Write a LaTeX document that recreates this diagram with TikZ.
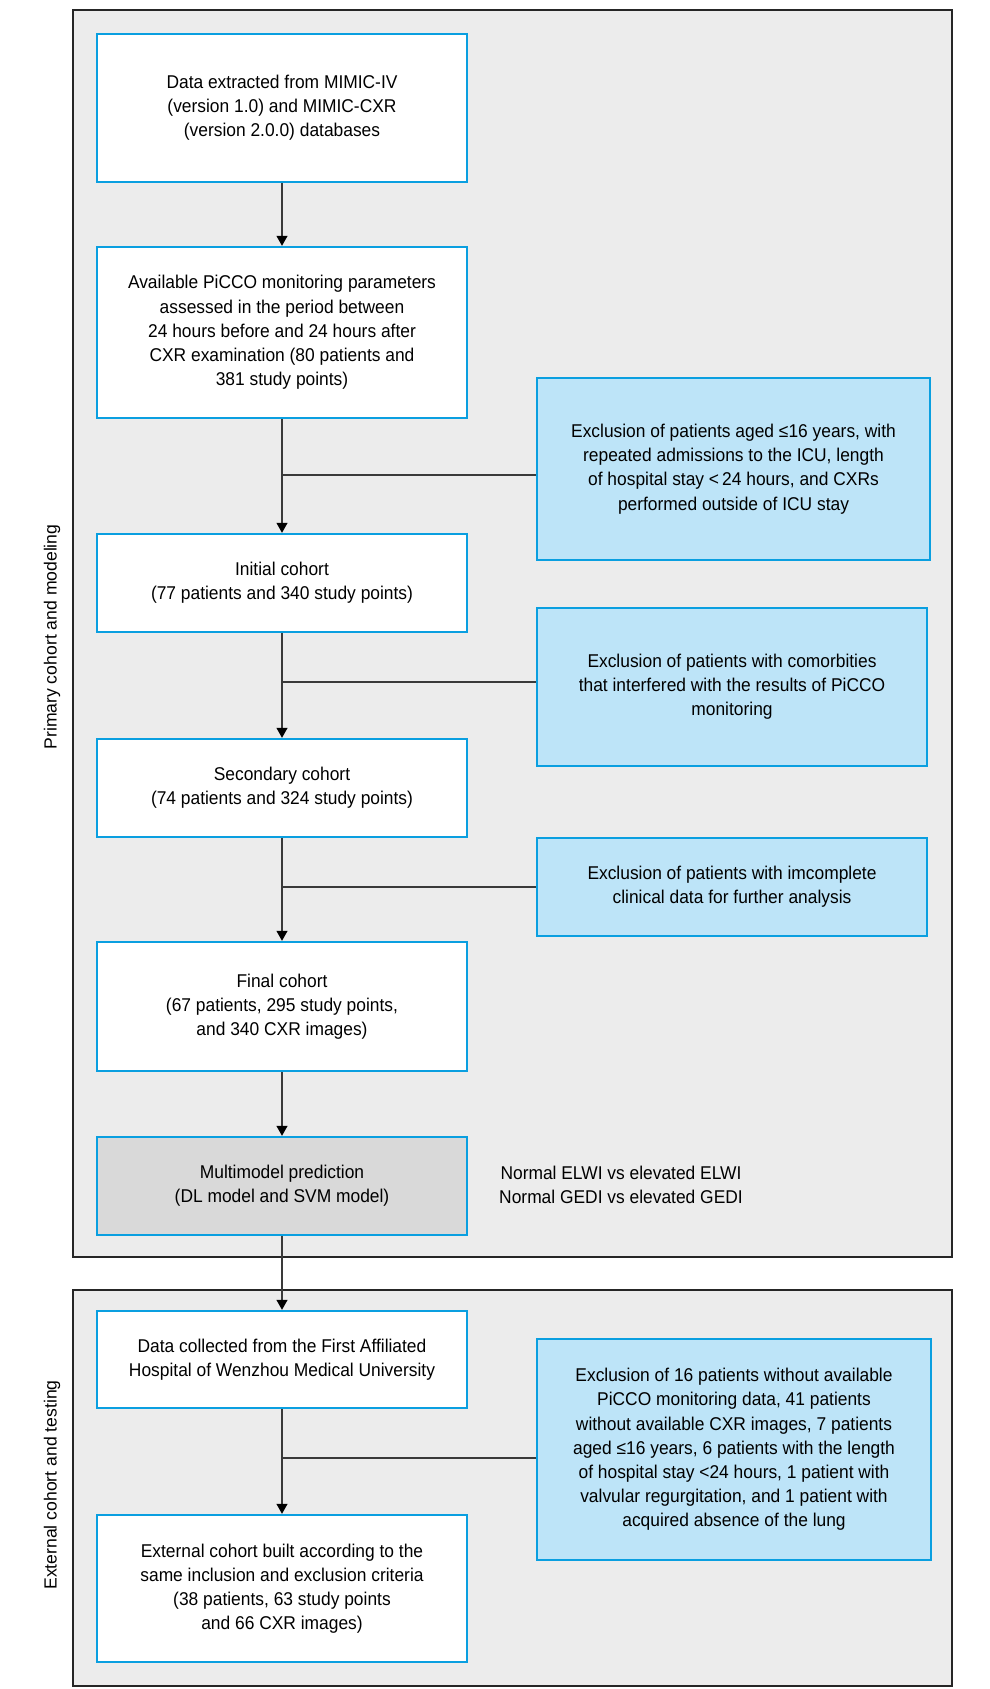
\documentclass[tikz,border=0pt]{standalone}
\usepackage{fontspec}
\setmainfont{Liberation Sans}[FakeStretch=0.94]
\newfontfamily\sidefont{Liberation Sans}
\usetikzlibrary{arrows.meta}
\definecolor{boxblue}{HTML}{0A9FE0}
\definecolor{exfill}{HTML}{BDE4F8}
\definecolor{panelgray}{HTML}{ECECEC}
\definecolor{multifill}{HTML}{D9D9D9}
\definecolor{conn}{HTML}{3A3A3A}
\begin{document}
\begin{tikzpicture}[x=1pt,y=-1pt,
  mainbox/.style={draw=boxblue, line width=2.4pt, fill=white, minimum width=370pt, align=center, inner sep=0pt, font=\fontsize{18.5}{24.2}\selectfont},
  exbox/.style={mainbox, fill=exfill},
  panelbox/.style={draw=black!85, line width=1.4pt, fill=panelgray, inner sep=0pt},
  conline/.style={draw=conn, line width=1.1pt},
  arr/.style={conline, -{Triangle[length=10pt,width=11pt,color=black]}},
  sidelabel/.style={rotate=90, font=\sidefont\fontsize{17.6}{20}\selectfont, inner sep=0pt},
  sidetext/.style={align=center, inner sep=0pt, font=\fontsize{18.5}{24.2}\selectfont}
]
\useasboundingbox (0,0) rectangle (990,1689);

% panels
\node[panelbox, minimum width=879pt, minimum height=1247pt] (p1) at (512.5,633.5) {};
\node[panelbox, minimum width=879pt, minimum height=396pt] (p2) at (512.5,1488) {};
\node[sidelabel] (lab1) at (52,637) {Primary cohort and modeling};
\node[sidelabel] (lab2) at (52,1485) {External cohort and testing};

% main column
\node[mainbox, minimum height=148pt] (b1) at (282,108) {Data extracted from MIMIC-IV\\(version 1.0) and MIMIC-CXR\\(version 2.0.0) databases};
\node[mainbox, minimum height=171pt] (b2) at (282,332.5) {Available PiCCO monitoring parameters\\assessed in the period between\\24 hours before and 24 hours after\\CXR examination (80 patients and\\381 study points)};
\node[mainbox, minimum height=98pt] (b3) at (282,583) {Initial cohort\\(77 patients and 340 study points)};
\node[mainbox, minimum height=98pt] (b4) at (282,788) {Secondary cohort\\(74 patients and 324 study points)};
\node[mainbox, minimum height=129pt] (b5) at (282,1006.5) {Final cohort\\(67 patients, 295 study points,\\and 340 CXR images)};
\node[mainbox, fill=multifill, minimum height=98pt] (b6) at (282,1186) {Multimodel prediction\\(DL model and SVM model)};
\node[mainbox, minimum height=97pt] (b7) at (282,1359.5) {Data collected from the First Affiliated\\Hospital of Wenzhou Medical University};
\node[mainbox, minimum height=147pt] (b8) at (282,1588.5) {External cohort built according to the\\same inclusion and exclusion criteria\\(38 patients, 63 study points\\and 66 CXR images)};

% exclusion boxes
\node[exbox, minimum width=393pt, minimum height=182pt] (e1) at (733.5,469) {Exclusion of patients aged ≤16 years, with\\repeated admissions to the ICU, length\\of hospital stay <\,24 hours, and CXRs\\performed outside of ICU stay};
\node[exbox, minimum width=390pt, minimum height=158pt] (e2) at (732,687) {Exclusion of patients with comorbities\\that interfered with the results of PiCCO\\monitoring};
\node[exbox, minimum width=390pt, minimum height=98pt] (e3) at (732,887) {Exclusion of patients with imcomplete\\clinical data for further analysis};
\node[exbox, minimum width=394pt, minimum height=221pt] (e4) at (734,1449.5) {Exclusion of 16 patients without available\\PiCCO monitoring data, 41 patients\\without available CXR images, 7 patients\\aged ≤16 years, 6 patients with the length\\of hospital stay <24 hours, 1 patient with\\valvular regurgitation, and 1 patient with\\acquired absence of the lung};

\node[sidetext] (outc) at (621,1185) {Normal ELWI vs elevated ELWI\\Normal GEDI vs elevated GEDI};

% junction points
\coordinate (j1) at (282,475);
\coordinate (j2) at (282,682);
\coordinate (j3) at (282,887);
\coordinate (j4) at (282,1458);

% connectors
\draw[arr] (b1.south) -- (b2.north);
\draw[arr] (b2.south) -- (b3.north);
\draw[arr] (b3.south) -- (b4.north);
\draw[arr] (b4.south) -- (b5.north);
\draw[arr] (b5.south) -- (b6.north);
\draw[arr] (b6.south) -- (b7.north);
\draw[arr] (b7.south) -- (b8.north);
\draw[conline] (j1) -- (j1 -| e1.west);
\draw[conline] (j2) -- (j2 -| e2.west);
\draw[conline] (j3) -- (j3 -| e3.west);
\draw[conline] (j4) -- (j4 -| e4.west);
\end{tikzpicture}
\end{document}
